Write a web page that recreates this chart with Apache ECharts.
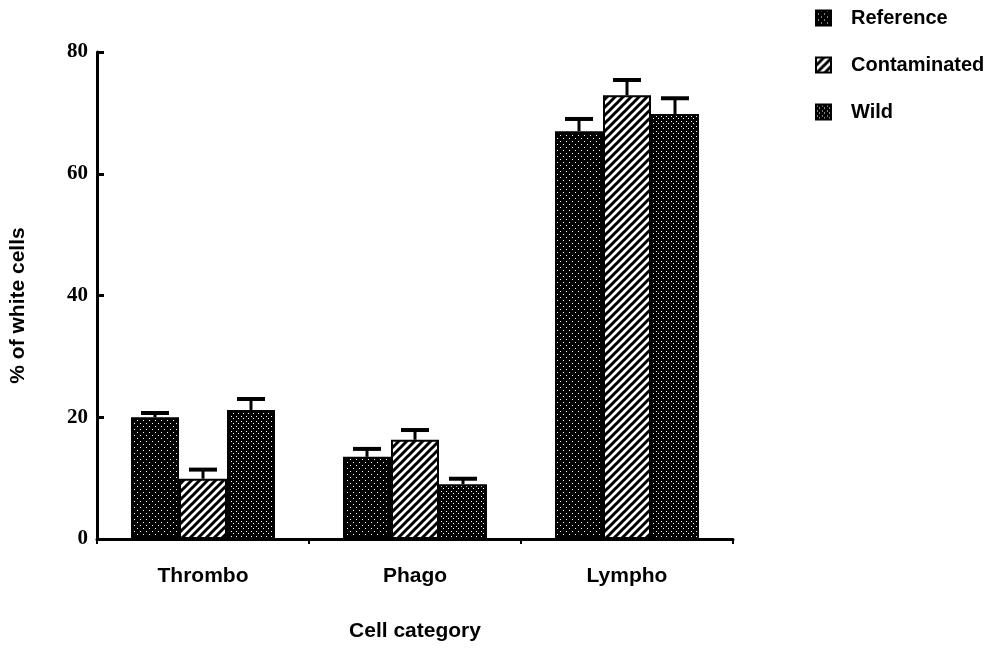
<!DOCTYPE html>
<html>
<head>
<meta charset="utf-8">
<script src="https://cdn.jsdelivr.net/npm/echarts@6/dist/echarts.min.js"></script>
<style>
  html, body { margin: 0; padding: 0; background: #fff; }
  #chart { width: 996px; height: 649px; }
</style>
</head>
<body>
<div id="chart"></div>
<script>
  // data
  var categories = ['Thrombo', 'Phago', 'Lympho'];
  var seriesNames = ['Reference', 'Contaminated', 'Wild'];
  var referenceVals = [20.0, 13.5, 67.0];
  var contaminatedVals = [9.9, 16.3, 72.9];
  var wildVals = [21.2, 9.0, 69.8];
  var referenceErr = [0.7, 1.3, 2.0];
  var contaminatedErr = [1.5, 1.6, 2.5];
  var wildErr = [1.8, 0.9, 2.6];
  var yTicks = [0, 20, 40, 60, 80];

  // little tile patterns like the printed hatching
  function makeTile(kind) {
    var c = document.createElement('canvas');
    var ctx;
    if (kind === 'ref') {
      c.width = 6; c.height = 6;
      ctx = c.getContext('2d');
      ctx.fillStyle = '#000'; ctx.fillRect(0, 0, 6, 6);
      ctx.fillStyle = '#fff';
      ctx.fillRect(5, 0, 1, 1);
      ctx.fillRect(2, 3, 1, 1);
    } else if (kind === 'cont') {
      c.width = 8; c.height = 8;
      ctx = c.getContext('2d');
      ctx.fillStyle = '#fff'; ctx.fillRect(0, 0, 8, 8);
      ctx.strokeStyle = '#000'; ctx.lineWidth = 3;
      ctx.beginPath();
      ctx.moveTo(-2, 10); ctx.lineTo(10, -2);
      ctx.moveTo(-6, 6); ctx.lineTo(6, -6);
      ctx.moveTo(2, 14); ctx.lineTo(14, 2);
      ctx.stroke();
    } else {
      c.width = 5; c.height = 5;
      ctx = c.getContext('2d');
      ctx.fillStyle = '#000'; ctx.fillRect(0, 0, 5, 5);
      ctx.fillStyle = '#fff';
      ctx.fillRect(1, 1, 1, 1);
      ctx.fillRect(3, 3, 1, 1);
    }
    return c;
  }

  var fills = [
    { image: makeTile('ref'), repeat: 'repeat' },
    { image: makeTile('cont'), repeat: 'repeat' },
    { image: makeTile('wild'), repeat: 'repeat' }
  ];
  var values = [referenceVals, contaminatedVals, wildVals];
  var errors = [referenceErr, contaminatedErr, wildErr];
  var barW = 48;

  function errorSeries(k) {
    return {
      type: 'custom',
      name: seriesNames[k] + ' err',
      z: 3,
      data: categories.map(function (c, i) { return [i, values[k][i], errors[k][i]]; }),
      renderItem: function (params, api) {
        var base = api.coord([api.value(0), api.value(1)]);
        var top = api.coord([api.value(0), api.value(1) + api.value(2)]);
        var x = base[0] + (k - 1) * barW;
        var half = 14;
        return {
          type: 'group',
          children: [
            { type: 'line', shape: { x1: x, y1: base[1], x2: x, y2: top[1] },
              style: { stroke: '#000', lineWidth: 3 } },
            { type: 'line', shape: { x1: x - half, y1: top[1], x2: x + half, y2: top[1] },
              style: { stroke: '#000', lineWidth: 4 } }
          ]
        };
      }
    };
  }

  var sans = 'Liberation Sans';
  var chart = echarts.init(document.getElementById('chart'));
  var option = {
    animation: false,
    backgroundColor: '#fff',
    legend: {
      orient: 'vertical',
      left: 810,
      top: 3,
      itemGap: 27,
      itemWidth: 15,
      itemHeight: 15,
      icon: 'rect',
      data: seriesNames,
      textStyle: { fontFamily: sans, fontWeight: 'bold', fontSize: 20, color: '#000', padding: [0, 0, 0, 15] }
    },
    grid: { left: 97, right: 263, top: 52, bottom: 110 },
    xAxis: {
      type: 'category',
      data: categories,
      name: 'Cell category',
      nameLocation: 'middle',
      nameGap: 82,
      nameTextStyle: { fontFamily: sans, fontWeight: 'bold', fontSize: 21, color: '#000' },
      axisLine: { lineStyle: { color: '#000', width: 3 } },
      axisTick: { show: true, length: 5, lineStyle: { color: '#000', width: 2 } },
      axisLabel: { fontFamily: sans, fontWeight: 'bold', fontSize: 21, color: '#000', margin: 27 }
    },
    yAxis: {
      type: 'value',
      min: 0,
      max: 80,
      interval: 20,
      name: '% of white cells',
      nameLocation: 'middle',
      nameGap: 68,
      nameTextStyle: { fontFamily: sans, fontWeight: 'bold', fontSize: 21, color: '#000', padding: [0, 20, 0, 0] },
      axisLine: { show: true, lineStyle: { color: '#000', width: 3 } },
      axisTick: { show: true, inside: true, length: 7, lineStyle: { color: '#000', width: 3 } },
      splitLine: { show: false },
      axisLabel: {
        fontFamily: 'Liberation Serif', fontWeight: 'bold', fontSize: 21, color: '#000', margin: 9,
        formatter: function (v) { return yTicks.indexOf(v) >= 0 ? String(v) : ''; }
      }
    },
    series: seriesNames.map(function (n, k) {
      return {
        type: 'bar',
        name: n,
        barWidth: barW,
        barGap: '0%',
        z: 2,
        itemStyle: { color: fills[k], borderColor: '#000', borderWidth: 2 },
        data: values[k]
      };
    }).concat([errorSeries(0), errorSeries(1), errorSeries(2)])
  };
  chart.setOption(option);
</script>
</body>
</html>
